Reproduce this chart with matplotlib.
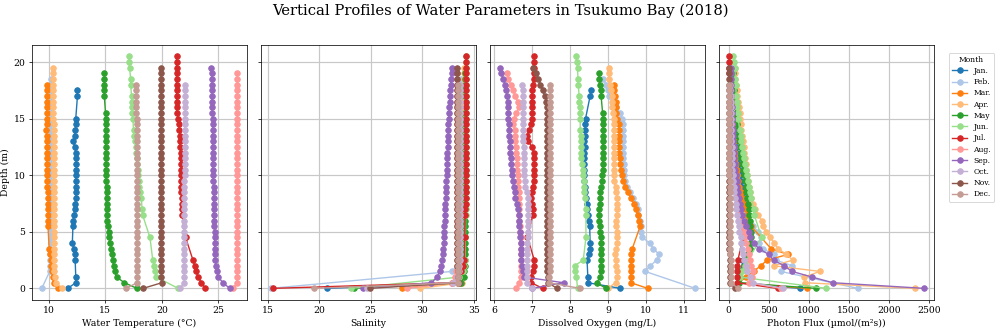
import numpy as np
import matplotlib.pyplot as plt

plt.rcParams['font.family'] = 'DejaVu Serif'

nan = np.nan

# depth bins (m), shared by all casts
depth = [0.0, 0.5, 1.0, 1.5, 2.0, 2.5, 3.0, 3.5, 4.0, 4.5, 5.0, 5.5, 6.0, 6.5,
         7.0, 7.5, 8.0, 8.5, 9.0, 9.5, 10.0, 10.5, 11.0, 11.5, 12.0, 12.5, 13.0,
         13.5, 14.0, 14.5, 15.0, 15.5, 16.0, 16.5, 17.0, 17.5, 18.0, 18.5, 19.0,
         19.5, 20.0, 20.5]

months = ['Jan.', 'Feb.', 'Mar.', 'Apr.', 'May', 'Jun.',
          'Jul.', 'Aug.', 'Sep.', 'Oct.', 'Nov.', 'Dec.']

# ---- water temperature (deg C) ----
temp_jan = [11.7, 12.4, 12.4, nan, nan, 12.35, 12.35, 12.25, 12.1, nan, nan,
            12.15, 12.15, 12.25, 12.3, 12.35, 12.4, 12.4, 12.4, 12.4, 12.45,
            12.45, 12.45, 12.4, 12.4, 12.3, 12.2, 12.3, 12.35, 12.4, 12.4,
            nan, nan, nan, 12.55, 12.55]
temp_feb = [9.4, nan, nan, 10.1, 10.15, 10.15, 10.15, 10.15, 10.2, 10.2, 10.2,
            10.2, 10.2, 10.2, 10.2, 10.2, 10.2, 10.2, 10.25, 10.25, 10.25,
            10.25, 10.25, 10.25, 10.25, 10.25, 10.2, 10.2, 10.2, 10.25, 10.25,
            10.25, 10.25, 10.25, 10.25, 10.25, 10.25, 10.25]
temp_mar = [10.8, 10.45, 10.35, 10.3, 10.25, 10.2, 10.15, 10.05, nan, nan, nan,
            9.95, 9.95, 9.95, 9.95, 9.95, 9.95, 9.95, 9.9, 9.85, 9.85, 9.85,
            9.85, 9.85, 9.85, 9.85, 9.85, 9.85, 9.78, 9.85, 9.85, 9.85, 9.85,
            9.85, 9.85, 9.85, 9.85]
temp_apr = [11.2, 10.7, 10.55, 10.5, 10.45, 10.45, 10.45, 10.45, 10.45, 10.45,
            10.45, 10.45, 10.45, 10.45, 10.45, 10.45, 10.45, 10.45, 10.45,
            10.45, 10.45, 10.45, 10.45, 10.45, 10.45, 10.45, 10.45, 10.45,
            10.45, 10.45, 10.42, 10.42, 10.42, 10.42, 10.4, 10.4, 10.4, 10.4,
            10.38, 10.35]
temp_may = [17.8, 16.7, 16.0, 15.84, 15.75, 15.66, 15.6, 15.54, 15.45, 15.36,
            15.3, 15.24, 15.2, 15.18, 15.15, 15.12, 15.12, 15.12, 15.12, 15.09,
            15.09, 15.09, 15.09, 15.09, 15.09, 15.05, 15.03, 15.03, 15.03,
            15.03, 15.03, 15.03, nan, nan, 14.92, 14.92, 14.92, 14.92, 14.92]
temp_jun = [21.45, nan, 19.5, 19.4, 19.35, 19.2, nan, nan, nan, 18.95, nan, nan,
            nan, 18.3, 18.25, nan, 18.2, 18.1, 18.0, 17.95, 17.9, 17.9, 17.85,
            17.8, 17.75, 17.7, 17.6, 17.55, 17.5, nan, 17.45, 17.4, 17.4, 17.38,
            17.33, nan, 17.25, 17.25, nan, 17.15, 17.1, 17.1]
temp_jul = [23.85, 23.5, 23.2, 23.05, 22.9, 22.75, nan, nan, nan, 22.1, nan, nan,
            nan, 21.8, 21.75, 21.75, 21.75, 21.7, 21.7, 21.7, 21.7, 21.7, 21.68,
            21.65, 21.65, 21.6, 21.6, 21.58, 21.55, 21.5, 21.45, 21.35, 21.32,
            21.32, 21.32, 21.3, 21.3, 21.3, 21.3, 21.3, 21.3, 21.3]
temp_aug = [26.3, 26.64, 26.65, 26.66, 26.66, 26.66, 26.65, 26.65, 26.65, 26.65,
            26.65, 26.65, 26.65, 26.66, 26.66, 26.66, 26.66, 26.66, 26.65, 26.65,
            26.65, 26.65, 26.65, 26.65, 26.65, 26.65, 26.65, 26.65, 26.65, 26.65,
            26.65, 26.65, 26.65, 26.65, 26.65, 26.65, 26.65, 26.65, 26.65]
temp_sep = [26.0, 25.39, 25.0, 24.88, 24.8, 24.73, 24.7, 24.67, 24.67, 24.67,
            24.67, 24.6, 24.6, 24.58, 24.58, 24.58, 24.58, 24.58, 24.58, 24.55,
            24.52, 24.5, 24.5, 24.5, 24.5, 24.5, 24.5, 24.5, 24.5, 24.5, 24.5,
            24.45, 24.43, 24.43, 24.43, 24.43, 24.43, 24.42, 24.4, 24.35]
temp_oct = [21.6, 21.95, 21.98, 22.0, 22.0, 22.0, 22.0, 22.0, 22.0, 22.0, 22.0,
            22.0, 22.0, 22.0, 22.0, 22.0, 22.0, 22.0, 22.0, 22.0, 22.02, 22.02,
            22.02, 22.02, 22.02, 22.02, 22.02, 22.02, 22.02, 22.02, 22.05, 22.05,
            22.05, 22.05, 22.05, 22.05, 22.05]
temp_nov = [18.35, 20.0, 19.95, 19.93, 19.93, 19.93, 19.93, 19.93, 19.93, 19.93,
            19.93, 19.93, 19.93, 19.93, 19.93, 19.93, 19.93, 19.93, 19.93, 19.93,
            19.93, 19.93, 19.93, 19.93, 19.93, 19.93, 19.93, 19.93, 19.93, 19.93,
            19.93, 19.93, 19.93, 19.93, 19.93, 19.93, 19.93, 19.93, 19.93, 19.93]
temp_dec = [16.85, 17.82, 17.82, 17.8, 17.8, 17.8, 17.8, 17.8, 17.8, 17.8, 17.8,
            17.8, 17.8, 17.8, 17.8, 17.8, 17.8, 17.8, 17.8, 17.8, 17.8, 17.8,
            17.8, 17.78, 17.78, 17.78, 17.78, 17.78, 17.78, 17.78, 17.78, 17.75,
            17.75, 17.75, 17.75, 17.75, 17.75]

# ---- salinity ----
sal_jan = [20.8, 33.5, 33.75, nan, nan, 33.85, 33.85, 33.88, 33.88, nan, nan,
           33.9, 33.9, 33.9, 33.9, 33.9, 33.9, 33.9, 33.9, 33.9, 33.9, 33.9, 33.9,
           33.88, 33.88, 33.88, 33.88, 33.88, 33.88, 33.85, 33.85, nan, nan, nan,
           33.8, 33.8]
sal_feb = [15.3, nan, nan, 32.9, 33.4, 33.55, 33.6, 33.65, 33.65, 33.7, 33.7,
           33.7, 33.7, 33.7, 33.7, 33.7, 33.7, 33.7, 33.7, 33.7, 33.7, 33.7, 33.7,
           33.7, 33.7, 33.72, 33.72, 33.72, 33.72, 33.72, 33.72, 33.72, 33.72,
           33.72, 33.75, 33.75, 33.75, 33.75]
sal_mar = [28.0, 33.5, 33.85, 33.95, 34.0, 34.0, 34.02, 34.02, nan, nan, nan,
           34.05, 34.05, 34.05, 34.05, 34.05, 34.05, 34.05, 34.05, 34.05, 34.05,
           34.05, 34.05, 34.05, 34.05, 34.05, 34.05, 34.05, 34.05, 34.05, 34.05,
           34.05, 34.05, 34.05, 34.05, 34.05, 34.05]
sal_apr = [29.8, 33.9, 34.0, 34.0, 34.02, 34.02, 34.02, 34.02, 34.02, 34.02,
           34.02, 34.02, 34.02, 34.02, 34.02, 34.02, 34.02, 34.02, 34.02, 34.02,
           34.05, 34.05, 34.05, 34.05, 34.05, 34.05, 34.05, 34.05, 34.05, 34.05,
           34.05, 34.05, 34.05, 34.05, 34.05, 34.05, 34.05, 34.05, 34.05, 34.05]
sal_may = [23.4, 33.8, 34.05, 34.1, 34.12, 34.15, 34.15, 34.15, 34.15, 34.15,
           34.15, 34.15, 34.15, 34.15, 34.15, 34.15, 34.15, 34.15, 34.15, 34.15,
           34.15, 34.15, 34.15, 34.15, 34.15, 34.15, 34.15, 34.15, 34.15, 34.15,
           34.15, 34.15, nan, nan, 34.15, 34.15, 34.15, 34.15, 34.15]
sal_jun = [23.1, nan, 33.6, 34.0, 34.1, 34.15, nan, nan, nan, 34.2, nan, nan, nan,
           34.22, 34.22, nan, 34.25, 34.25, 34.25, 34.25, 34.25, 34.25, 34.25,
           34.25, 34.25, 34.25, 34.25, 34.25, 34.25, nan, 34.27, 34.27, 34.27,
           34.27, 34.27, nan, 34.28, 34.28, nan, 34.28, 34.28, 34.28]
sal_jul = [15.5, 32.9, 33.3, 33.8, 34.0, 34.1, nan, nan, nan, 34.15, nan, nan, nan,
           34.18, 34.18, 34.22, 34.22, 34.22, 34.22, 34.22, 34.22, 34.22, 34.22,
           34.22, 34.22, 34.22, 34.22, 34.22, 34.22, 34.28, 34.28, 34.28, 34.28,
           34.28, 34.28, 34.28, 34.28, 34.28, 34.28, 34.28, 34.28, 34.28]
sal_aug = [28.5, 32.9, 33.2, 33.3, 33.35, 33.35, 33.35, 33.35, 33.35, 33.35,
           33.35, 33.35, 33.35, 33.35, 33.35, 33.35, 33.35, 33.35, 33.35, 33.35,
           33.35, 33.35, 33.35, 33.35, 33.35, 33.35, 33.35, 33.35, 33.35, 33.35,
           33.35, 33.35, 33.35, 33.35, 33.35, 33.35, 33.35, 33.35, 33.35]
sal_sep = [24.3, 30.9, 31.45, 31.7, 31.85, 31.95, 32.0, 32.05, 32.1, 32.1, 32.15,
           32.15, 32.2, 32.2, 32.25, 32.25, 32.3, 32.3, 32.35, 32.35, 32.4, 32.4,
           32.45, 32.45, 32.45, 32.5, 32.5, 32.5, 32.55, 32.55, 32.6, 32.6, 32.65,
           32.7, 32.7, 32.75, 32.8, 32.8, 32.85, 32.85]
sal_oct = [24.6, 33.0, 33.4, 33.55, 33.6, 33.65, 33.65, 33.65, 33.65, 33.65,
           33.65, 33.65, 33.65, 33.65, 33.65, 33.65, 33.65, 33.65, 33.65, 33.65,
           33.65, 33.65, 33.65, 33.65, 33.65, 33.65, 33.65, 33.65, 33.65, 33.65,
           33.65, 33.65, 33.65, 33.65, 33.65, 33.65, 33.65]
sal_nov = [24.9, 33.6, 33.5, 33.45, 33.42, 33.4, 33.4, 33.4, 33.4, 33.4, 33.4,
           33.4, 33.4, 33.4, 33.4, 33.4, 33.4, 33.4, 33.4, 33.4, 33.4, 33.4, 33.4,
           33.4, 33.4, 33.4, 33.4, 33.4, 33.4, 33.4, 33.4, 33.4, 33.4, 33.4, 33.4,
           33.4, 33.4, 33.4, 33.4, 33.4]
sal_dec = [19.5, 33.45, 33.5, 33.5, 33.5, 33.5, 33.5, 33.5, 33.5, 33.5, 33.5,
           33.5, 33.5, 33.5, 33.5, 33.5, 33.5, 33.5, 33.5, 33.5, 33.5, 33.5, 33.5,
           33.5, 33.5, 33.5, 33.5, 33.5, 33.5, 33.5, 33.5, 33.5, 33.5, 33.5, 33.5,
           33.5, 33.5]

# ---- dissolved oxygen (mg/L) ----
do_jan = [9.33, 8.47, 8.47, nan, nan, 8.45, 8.5, 8.53, 8.53, nan, nan, 8.52, 8.5,
          8.48, 8.46, 8.44, 8.42, 8.4, 8.4, 8.38, 8.38, 8.38, 8.38, 8.38, 8.38,
          8.4, 8.38, 8.4, 8.4, 8.4, 8.41, nan, nan, nan, 8.53, 8.55]
do_feb = [11.3, nan, nan, 9.98, 10.12, 10.28, 10.35, 10.2, 10.1, 9.91, 9.87,
          9.87, 9.85, 9.8, 9.78, 9.73, 9.67, 9.59, 9.5, 9.45, 9.43, 9.43, 9.42,
          9.41, 9.4, 9.4, 9.4, 9.4, 9.4, 9.4, 9.38, 9.31, 9.22, 9.13, 9.04, 9.0,
          8.95, 8.88]
do_mar = [10.05, 9.6, 9.6, 9.6, 9.6, 9.62, 9.62, 9.64, nan, nan, nan, 9.85, 9.82,
          9.78, 9.73, 9.68, 9.6, 9.53, 9.46, 9.4, 9.37, 9.35, 9.33, 9.32, 9.3,
          9.3, 9.28, 9.3, 9.3, 9.28, 9.25, 9.22, 9.2, 9.2, 9.18, 9.17, 9.15]
do_apr = [9.0, 9.2, 9.25, 9.25, 9.22, 9.2, 9.18, 9.22, 9.25, 9.25, 9.25, 9.22,
          9.22, 9.25, 9.25, 9.25, 9.25, 9.22, 9.2, 9.17, 9.15, 9.15, 9.15, 9.15,
          9.15, 9.15, 9.15, 9.15, 9.15, 9.15, 9.15, 9.13, 9.12, 9.1, 9.1, 9.08,
          9.05, 9.02, 9.02, 9.04]
do_may = [8.95, 8.7, 8.8, 8.82, 8.82, 8.82, 8.82, 8.82, 8.82, 8.82, 8.8, 8.78,
          8.77, 8.77, 8.77, 8.8, 8.8, 8.8, 8.82, 8.85, 8.85, 8.86, 8.86, 8.86,
          8.87, 8.87, 8.87, 8.87, 8.87, 8.87, 8.87, 8.86, nan, nan, 8.82, 8.82,
          8.79, 8.76, 8.77]
do_jun = [8.2, nan, 8.17, 8.14, 8.12, 8.35, nan, nan, nan, 8.42, nan, nan, nan,
          8.42, 8.41, nan, 8.4, 8.38, 8.37, 8.36, 8.35, 8.33, 8.32, 8.3, 8.3, 8.3,
          8.28, 8.28, 8.27, nan, 8.27, 8.26, 8.26, 8.25, 8.24, nan, 8.22, 8.21,
          nan, 8.2, 8.18, 8.15]
do_jul = [7.28, 6.98, 6.97, 7.02, 7.04, 7.06, nan, nan, nan, 6.88, nan, nan, nan,
          7.02, 7.02, 7.0, 6.98, 7.0, 7.02, 7.05, 7.06, 7.06, 7.06, 7.06, 7.05,
          7.0, 6.9, 6.88, 6.92, 6.97, 7.0, 7.0, 7.0, 7.0, 7.0, 7.0, 7.02, 7.05,
          7.05, 7.05, 7.06, 7.06]
do_aug = [6.58, 6.67, 6.7, 6.72, 6.72, 6.72, 6.7, 6.7, 6.7, 6.7, 6.68, 6.68,
          6.67, 6.67, 6.66, 6.66, 6.65, 6.65, 6.63, 6.62, 6.62, 6.6, 6.6, 6.6,
          6.58, 6.57, 6.56, 6.55, 6.55, 6.5, 6.52, 6.58, 6.66, 6.63, 6.55, 6.5,
          6.44, 6.37, 6.34]
do_sep = [7.0, 7.83, 6.8, 6.77, 6.74, 6.72, 6.71, 6.7, 6.7, 6.69, 6.68, 6.67,
          6.66, 6.65, 6.63, 6.61, 6.56, 6.54, 6.52, 6.5, 6.47, 6.46, 6.45, 6.44,
          6.43, 6.42, 6.41, 6.4, 6.4, 6.39, 6.38, 6.38, 6.37, 6.36, 6.34, 6.32,
          6.3, 6.24, 6.19, 6.15]
do_oct = [7.0, 6.86, 6.86, 6.87, 6.88, 6.88, 6.88, 6.88, 6.88, 6.9, 6.9, 6.9,
          6.9, 6.9, 6.9, 6.9, 6.9, 6.88, 6.82, 6.81, 6.8, 6.8, 6.79, 6.79, 6.78,
          6.78, 6.77, 6.77, 6.77, 6.77, 6.77, 6.77, 6.76, 6.76, 6.75, 6.75, 6.74]
do_nov = [7.66, 7.42, 7.41, 7.4, 7.4, 7.4, 7.4, 7.4, 7.4, 7.4, 7.4, 7.4, 7.4,
          7.4, 7.4, 7.4, 7.4, 7.4, 7.4, 7.4, 7.4, 7.4, 7.4, 7.4, 7.4, 7.4, 7.4,
          7.4, 7.4, 7.4, 7.4, 7.4, 7.4, 7.38, 7.34, 7.28, 7.22, 7.17, 7.1, 7.02]
do_dec = [8.26, 7.45, 7.46, 7.47, 7.47, 7.47, 7.47, 7.47, 7.47, 7.47, 7.47, 7.47,
          7.47, 7.47, 7.47, 7.47, 7.47, 7.47, 7.47, 7.47, 7.47, 7.47, 7.47, 7.48,
          7.48, 7.48, 7.48, 7.48, 7.48, 7.48, 7.48, 7.48, 7.48, 7.48, 7.48, 7.48,
          7.48]

# ---- photon flux (umol/(m2 s)) ----
phot_jan = [890, 120, 130, nan, nan, 180, 230, 260, 270, nan, nan, 245, 229, 220,
            212, 200, 191, 178, 166, 156, 146, 135, 125, 114, 104, 95, 87, 81,
            75, 68, 62, nan, nan, nan, 46, 40]
phot_feb = [1610, nan, nan, 650, 790, 590, 560, 430, 380, 400, 370, 300, 250,
            220, 190, 170, 150, 135, 120, 110, 100, 95, 85, 80, 72, 65, 60, 55,
            50, 46, 42, 38, 35, 32, 30, 28, 26, 24]
phot_mar = [980, 120, 220, 310, 400, 480, 740, 530, nan, nan, nan, 280, 250, 230,
            210, 190, 170, 150, 135, 120, 110, 100, 92, 85, 78, 72, 66, 60, 56,
            52, 48, 44, 40, 37, 34, 32, 30]
phot_apr = [2330, 950, 940, 1140, 560, 800, 720, 620, 570, 520, 470, 430, 410,
            370, 330, 300, 275, 260, 250, 240, 230, 220, 212, 205, 195, 185, 175,
            165, 158, 150, 145, 137, 130, 120, 110, 100, 90, 85, 80, 75]
phot_may = [1090, 125, 140, 160, 185, 210, 240, 260, 275, 280, 275, 268, 262,
            258, 254, 240, 229, 220, 212, 200, 187, 177, 166, 158, 150, 140, 129,
            120, 112, 104, 96, 90, nan, nan, 75, 70, 64, 58, 54]
phot_jun = [1220, nan, 140, 170, 200, 240, nan, nan, nan, 410, nan, nan, nan, 320,
            310, nan, 283, 265, 250, 240, 229, 215, 200, 190, 179, 170, 158, 148,
            137, nan, 120, 112, 104, 98, 95, nan, 88, 84, nan, 76, 67, 60]
phot_jul = [610, 100, 110, 105, 110, 115, nan, nan, nan, 180, nan, nan, nan, 150,
            135, 120, 105, 95, 88, 80, 75, 68, 62, 58, 54, 50, 46, 43, 40, 36, 32,
            28, 24, 21, 18, 16, 14, 12, 10, 8, 6, 5]
phot_aug = [650, 250, 290, 300, 275, 262, 250, 235, 220, 200, 185, 170, 158, 145,
            132, 122, 112, 102, 92, 84, 76, 70, 64, 59, 54, 50, 46, 42, 39, 36,
            33, 30, 27, 24, 22, 19, 17, 14, 12]
phot_sep = [2440, 1300, 1040, 790, 690, 560, 500, 380, 310, 270, 250, 220, 190,
            170, 155, 140, 130, 120, 110, 100, 92, 85, 78, 72, 66, 61, 57, 53, 50,
            47, 44, 41, 38, 35, 33, 31, 29, 27, 25, 23]
phot_oct = [680, 300, 260, 230, 210, 195, 180, 170, 160, 150, 135, 125, 115, 105,
            95, 87, 78, 70, 62, 55, 48, 45, 42, 40, 38, 36, 33, 32, 30, 29, 28,
            27, 26, 25, 24, 22, 21]
phot_nov = [75, 15, 14, 13, 12, 12, 11, 10, 10, 9, 9, 8, 8, 7, 7, 6, 6, 6, 5, 5,
            5, 4, 4, 4, 4, 3, 3, 3, 3, 3, 2, 2, 2, 2, 2, 2, 1, 1, 1, 1]
phot_dec = [115, 30, 28, 27, 25, 24, 22, 21, 20, 19, 18, 17, 16, 15, 14, 13, 13,
            12, 11, 11, 10, 10, 9, 9, 8, 8, 8, 7, 7, 7, 6, 6, 6, 5, 5, 5, 5]

temperature = [temp_jan, temp_feb, temp_mar, temp_apr, temp_may, temp_jun,
               temp_jul, temp_aug, temp_sep, temp_oct, temp_nov, temp_dec]
salinity = [sal_jan, sal_feb, sal_mar, sal_apr, sal_may, sal_jun,
            sal_jul, sal_aug, sal_sep, sal_oct, sal_nov, sal_dec]
oxygen = [do_jan, do_feb, do_mar, do_apr, do_may, do_jun,
          do_jul, do_aug, do_sep, do_oct, do_nov, do_dec]
photon = [phot_jan, phot_feb, phot_mar, phot_apr, phot_may, phot_jun,
          phot_jul, phot_aug, phot_sep, phot_oct, phot_nov, phot_dec]

params = [temperature, salinity, oxygen, photon]
xlabels = ['Water Temperature (°C)', 'Salinity', 'Dissolved Oxygen (mg/L)',
           'Photon Flux (µmol/(m²s))']
colors = plt.cm.tab20.colors

fig, axes = plt.subplots(1, 4, figsize=(15, 4.95), sharey=True)

for ax, profiles, xlabel in zip(axes, params, xlabels):
    for vals, name, color in zip(profiles, months, colors):
        v = np.array(vals, dtype=float)
        d = np.array(depth[:len(v)])
        ok = ~np.isnan(v)  # skip empty bins, keep the line continuous
        ax.plot(v[ok], d[ok], 'o-', color=color, label=name)
    ax.set_xlabel(xlabel)
    ax.grid(True, color='#c8c8c8', linewidth=1.3)

axes[0].set_ylabel('Depth (m)')

handles, labels = axes[0].get_legend_handles_labels()
fig.legend(handles, labels, title='Month', loc='upper left',
           bbox_to_anchor=(0.945, 0.852), fontsize=8.3, title_fontsize=8.3,
           labelspacing=0.42)

fig.suptitle('Vertical Profiles of Water Parameters in Tsukumo Bay (2018)',
             fontsize=16, y=0.988)
plt.subplots_adjust(left=0.032, right=0.934, top=0.864, bottom=0.091,
                    wspace=0.065)
plt.savefig('out.png', dpi=1000 / 15)
